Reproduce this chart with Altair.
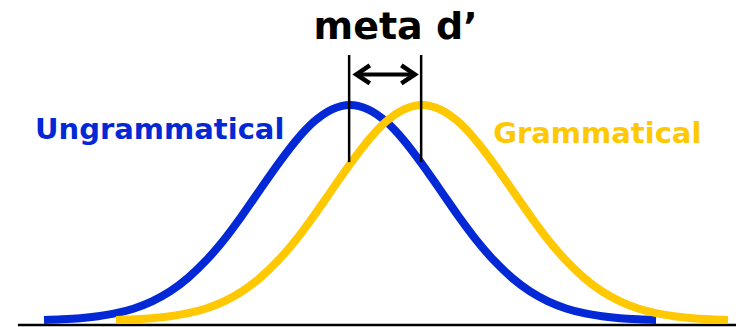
import altair as alt
import pandas as pd

# ---- data (x in sigma units, y = height relative to peak)
blue_x = [-3.8, -3.6, -3.4, -3.2, -3.0, -2.8, -2.6, -2.4, -2.2, -2.0, -1.8, -1.6,
          -1.4, -1.2, -1.0, -0.8, -0.6, -0.4, -0.2, 0.0, 0.2, 0.4, 0.6, 0.8,
          1.0, 1.2, 1.4, 1.6, 1.8, 2.0, 2.2, 2.4, 2.6, 2.8, 3.0]
blue_y = [0.003, 0.006, 0.011, 0.020, 0.034, 0.056, 0.089, 0.135, 0.198, 0.278, 0.375, 0.487,
          0.607, 0.726, 0.835, 0.923, 0.980, 1.000, 0.980, 0.923, 0.835, 0.726, 0.607, 0.487,
          0.375, 0.278, 0.198, 0.135, 0.089, 0.056, 0.034, 0.020, 0.011, 0.006, 0.003]
yellow_x = [-3.0, -2.8, -2.6, -2.4, -2.2, -2.0, -1.8, -1.6, -1.4, -1.2, -1.0, -0.8,
            -0.6, -0.4, -0.2, 0.0, 0.2, 0.4, 0.6, 0.8, 1.0, 1.2, 1.4, 1.6,
            1.8, 2.0, 2.2, 2.4, 2.6, 2.8, 3.0, 3.2, 3.4, 3.6, 3.8]
yellow_y = [0.003, 0.006, 0.011, 0.020, 0.034, 0.056, 0.089, 0.135, 0.198, 0.278, 0.375, 0.487,
            0.607, 0.726, 0.835, 0.923, 0.980, 1.000, 0.980, 0.923, 0.835, 0.726, 0.607, 0.487,
            0.375, 0.278, 0.198, 0.135, 0.089, 0.056, 0.034, 0.020, 0.011, 0.006, 0.003]

series_names = ["Ungrammatical", "Grammatical"]
series_colors = ["#0328d6", "#ffc800"]
means = [-0.4, 0.4]
title_text = "meta d\u2019"

blue_df = pd.DataFrame({"x": blue_x, "y": blue_y, "s": series_names[0]})
yellow_df = pd.DataFrame({"x": yellow_x, "y": yellow_y, "s": series_names[1]})

xs = alt.Scale(domain=[-4.2, 3.888], nice=False, zero=False)
ys = alt.Scale(domain=[-0.03, 1.45], nice=False, zero=False)
cs = alt.Scale(domain=series_names, range=series_colors)


def curve(df):
    return alt.Chart(df).mark_line(strokeWidth=8, interpolate="monotone", strokeCap="butt").encode(
        x=alt.X("x:Q", scale=xs, axis=None),
        y=alt.Y("y:Q", scale=ys, axis=None),
        color=alt.Color("s:N", scale=cs, legend=None),
    )


base_df = pd.DataFrame({"x": [-4.09], "x2": [3.95], "y": [-0.021]})
baseline = alt.Chart(base_df).mark_rule(color="black", strokeWidth=2.5).encode(
    x=alt.X("x:Q", scale=xs, axis=None), x2="x2:Q",
    y=alt.Y("y:Q", scale=ys, axis=None),
)

vl_df = pd.DataFrame({"x": [m - 0.01 for m in means], "y": [0.735, 0.735], "y2": [1.232, 1.232]})
vlines = alt.Chart(vl_df).mark_rule(color="black", strokeWidth=2.5).encode(
    x=alt.X("x:Q", scale=xs, axis=None),
    y=alt.Y("y:Q", scale=ys, axis=None), y2="y2:Q",
)

arrow_df = pd.DataFrame({"x": [-0.33], "x2": [0.32], "y": [1.142]})
shaft = alt.Chart(arrow_df).mark_rule(color="black", strokeWidth=4).encode(
    x=alt.X("x:Q", scale=xs, axis=None), x2="x2:Q",
    y=alt.Y("y:Q", scale=ys, axis=None),
)
head_l = alt.Chart(pd.DataFrame({"x": [-0.33], "y": [1.142]})).mark_point(
    shape="M 1.5 -1 L 0 0 L 1.5 1", size=324, filled=False, stroke="black",
    strokeWidth=4.5, opacity=1, strokeJoin="miter", strokeCap="butt",
).encode(x=alt.X("x:Q", scale=xs, axis=None), y=alt.Y("y:Q", scale=ys, axis=None))
head_r = alt.Chart(pd.DataFrame({"x": [0.32], "y": [1.142]})).mark_point(
    shape="M -1.5 -1 L 0 0 L -1.5 1", size=324, filled=False, stroke="black",
    strokeWidth=4.5, opacity=1, strokeJoin="miter", strokeCap="butt",
).encode(x=alt.X("x:Q", scale=xs, axis=None), y=alt.Y("y:Q", scale=ys, axis=None))

lab_df = pd.DataFrame({"x": [-3.9, 1.19], "y": [0.842, 0.824], "s": series_names})
labels = alt.Chart(lab_df).mark_text(
    font="DejaVu Sans", fontWeight="bold", fontSize=29, align="left", baseline="alphabetic"
).encode(
    x=alt.X("x:Q", scale=xs, axis=None),
    y=alt.Y("y:Q", scale=ys, axis=None),
    text="s:N",
    color=alt.Color("s:N", scale=cs, legend=None),
)

title_df = pd.DataFrame({"x": [0.106], "y": [1.305], "t": [title_text]})
title = alt.Chart(title_df).mark_text(
    font="DejaVu Sans", fontWeight="bold", fontSize=38, align="center",
    baseline="alphabetic", color="black",
).encode(
    x=alt.X("x:Q", scale=xs, axis=None),
    y=alt.Y("y:Q", scale=ys, axis=None),
    text="t:N",
)

chart = alt.layer(
    baseline, curve(blue_df), curve(yellow_df), vlines, shaft, head_l, head_r, labels, title
).properties(
    width=728, height=319, padding=0, autosize=alt.AutoSizeParams(type="none"),
    background="white",
).configure_view(stroke=None)

chart.save("out.html", embed_options={"renderer": "svg", "actions": False})
